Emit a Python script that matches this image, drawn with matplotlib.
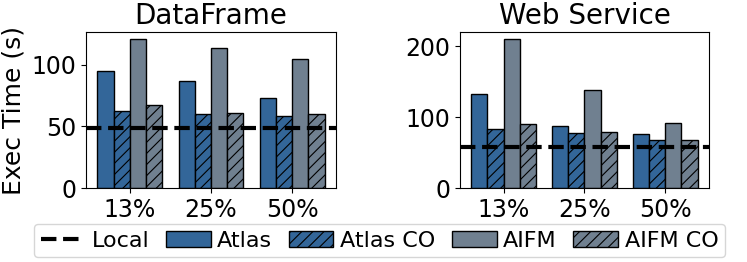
import matplotlib
matplotlib.use("Agg")
import matplotlib.pyplot as plt
import numpy as np

categories = ["13%", "25%", "50%"]
series_names = ["Atlas", "Atlas CO", "AIFM", "AIFM CO"]

df_atlas = [95.4, 87.0, 73.0]
df_atlas_co = [62.8, 60.0, 58.7]
df_aifm = [120.7, 114.0, 104.8]
df_aifm_co = [67.7, 60.6, 60.3]
df_local = 49.0

ws_atlas = [132.7, 87.4, 76.6]
ws_atlas_co = [84.0, 77.6, 67.3]
ws_aifm = [209.8, 137.9, 91.1]
ws_aifm_co = [91.0, 79.4, 67.3]
ws_local = 58.0

colors = ["#336699", "#336699", "#708090", "#708090"]
hatches = [None, "///", None, "///"]

plt.rcParams["hatch.linewidth"] = 0.8
fig = plt.figure(figsize=(7.47, 2.62), dpi=100)
ax1 = fig.add_axes([0.1151, 0.2824, 0.3347, 0.5955])
ax2 = fig.add_axes([0.6158, 0.2824, 0.3333, 0.5955])

def draw(ax, data, local, title, yticks):
    x = np.arange(len(categories))
    w = 0.2
    hs = []
    line = ax.axhline(local, color="black", linestyle="--", linewidth=3, label="Local")
    hs.append(line)
    for i, vals in enumerate(data):
        b = ax.bar(x + (i - 1.5) * w, vals, w, color=colors[i], edgecolor="black",
                   linewidth=1, hatch=hatches[i], label=series_names[i])
        hs.append(b)
    ax.set_xticks(x)
    ax.set_xticklabels(categories, fontsize=17)
    ax.set_yticks(yticks)
    ax.tick_params(axis="y", labelsize=17)
    ax.set_title(title, fontsize=20)
    return hs

handles = draw(ax1, [df_atlas, df_atlas_co, df_aifm, df_aifm_co], df_local, "DataFrame", [0, 50, 100])
draw(ax2, [ws_atlas, ws_atlas_co, ws_aifm, ws_aifm_co], ws_local, "Web Service", [0, 100, 200])
ax1.set_ylabel("Exec Time (s)", fontsize=18)

labels = ["Local"] + series_names
fig.legend(handles, labels, ncol=5,
           loc="center", bbox_to_anchor=(0.508, 0.082), fontsize=16,
           handletextpad=0.3, columnspacing=0.75, borderpad=0.3)

fig.savefig("out.png", dpi=100)
